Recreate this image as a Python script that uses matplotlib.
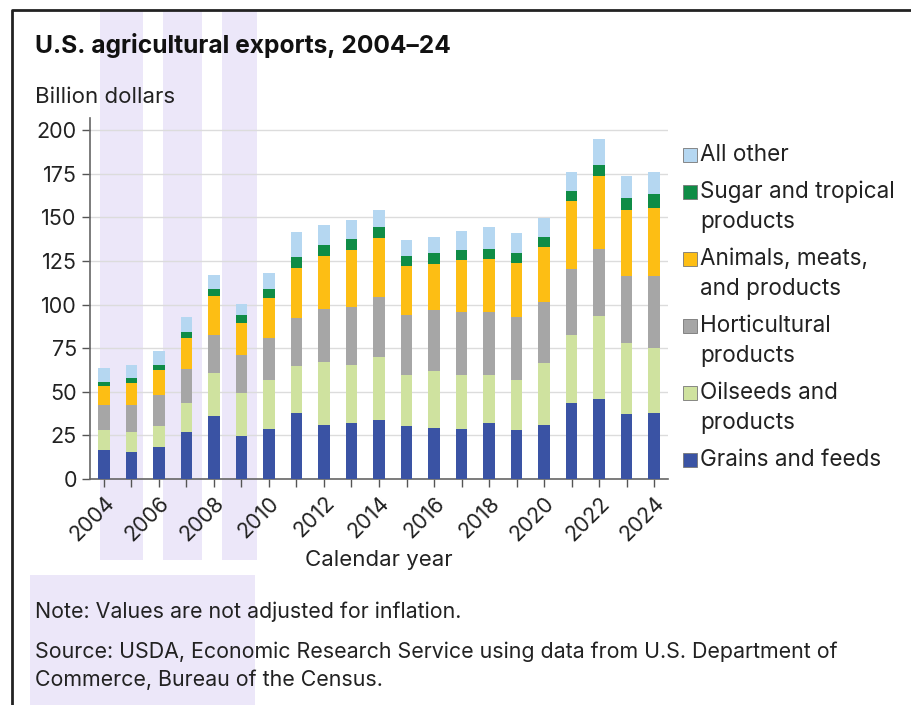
import matplotlib
matplotlib.use("Agg")
import matplotlib.pyplot as plt
from matplotlib.patches import Rectangle
from matplotlib.lines import Line2D
import numpy as np

plt.rcParams['font.family'] = ['Inter', 'DejaVu Sans']

years = list(range(2004, 2025))
grains = [16.8, 15.6, 18.3, 26.9, 35.9, 24.6, 28.4, 37.6, 31.1, 31.9, 34.0,
          30.2, 29.4, 28.6, 31.9, 27.9, 30.9, 43.3, 46.0, 37.4, 38.0]
oilseeds = [11.4, 11.1, 12.2, 16.6, 24.8, 24.6, 28.1, 27.3, 36.1, 33.4, 35.8,
            29.3, 32.8, 31.3, 27.8, 28.8, 35.9, 39.5, 47.3, 40.5, 37.0]
horticultural = [14.4, 15.9, 17.8, 19.5, 22.1, 22.0, 24.4, 27.5, 30.5, 33.6, 34.4,
                 34.8, 34.6, 35.7, 35.9, 36.0, 34.5, 37.8, 38.4, 38.5, 41.6]
animals = [10.8, 12.7, 14.1, 17.7, 22.0, 18.5, 23.1, 28.8, 30.2, 32.4, 34.0,
           27.6, 26.7, 29.8, 30.4, 31.0, 31.9, 38.6, 41.8, 38.0, 38.9]
sugar = [2.5, 2.7, 2.9, 3.7, 4.0, 4.2, 4.8, 5.9, 6.5, 6.3, 6.1,
         6.0, 5.9, 5.9, 6.1, 5.9, 5.3, 5.9, 6.7, 6.7, 7.9]
other = [7.8, 7.6, 8.0, 8.5, 8.4, 6.7, 9.3, 14.7, 11.0, 10.9, 9.7,
         8.9, 9.1, 11.1, 12.2, 11.2, 11.1, 11.2, 15.0, 12.8, 12.4]

series = [grains, oilseeds, horticultural, animals, sugar, other]
labels = ["Grains and feeds", "Oilseeds and\nproducts", "Horticultural\nproducts",
          "Animals, meats,\nand products", "Sugar and tropical\nproducts", "All other"]
colors = ["#3a53a4", "#cfe29f", "#a6a6a6", "#fdbe14", "#0f8c46", "#b5d7f1"]

yticks = [0, 25, 50, 75, 100, 125, 150, 175, 200]

W, H = 912, 705
fig = plt.figure(figsize=(W / 100, H / 100), dpi=100)
fig.patch.set_facecolor("white")

def fx(px):
    return px / W

def fy(py):
    return 1 - py / H

# faint watermark-like background stripes
lav = "#ece7f9"
for (x0, x1, y0, y1) in [(100, 143, 10, 560), (163, 202, 10, 560), (222, 257, 10, 560),
                         (30, 255, 575, 705)]:
    fig.add_artist(Rectangle((fx(x0), fy(y1)), fx(x1) - fx(x0), fy(y0) - fy(y1),
                             transform=fig.transFigure, facecolor=lav, edgecolor="none",
                             zorder=-10))

# frame
fig.add_artist(Line2D([fx(12), fx(12), fx(912)], [fy(705), fy(10), fy(10)],
                      transform=fig.transFigure, color="#222222", lw=2))

ax = fig.add_axes([fx(90), fy(479), fx(668) - fx(90), fy(118) - fy(479)])
ax.set_facecolor("none")

bottom = np.zeros(len(years))
for vals, col, lab in zip(series, colors, labels):
    ax.bar(years, vals, bottom=bottom, width=0.42, color=col, label=lab, zorder=3)
    bottom += np.array(vals)

ax.set_xlim(2003.5, 2024.5)
ax.set_ylim(0, 207)
ax.set_yticks(yticks)
ax.set_yticklabels([str(v) for v in yticks])
ax.set_xticks(years)
ax.set_xticklabels([str(y) if (y - 2004) % 2 == 0 else "" for y in years],
                   rotation=45, ha="right", va="top", rotation_mode="anchor")
ax.tick_params(axis="both", labelsize=15.5, colors="#555555", labelcolor="#222222",
               length=6, width=1, direction="out")
ax.tick_params(axis="x", pad=4)
ax.yaxis.grid(True, color="#dcdcdc", lw=1, zorder=0)
ax.set_axisbelow(True)
for s in ["top", "right"]:
    ax.spines[s].set_visible(False)
for s in ["left", "bottom"]:
    ax.spines[s].set_color("#666666")
    ax.spines[s].set_linewidth(1.2)

# texts
fig.text(fx(35), fy(45), "U.S. agricultural exports, 2004\u201324", fontsize=17.7,
         fontweight="bold", ha="left", va="center", color="#111111")
fig.text(fx(35), fy(97), "Billion dollars", fontsize=16, ha="left", va="center",
         color="#222222")
fig.text(fx(379), fy(560), "Calendar year", fontsize=16, ha="center", va="center",
         color="#222222")
fig.text(fx(35), fy(612), "Note: Values are not adjusted for inflation.", fontsize=15.4,
         ha="left", va="center", color="#222222")
fig.text(fx(35), fy(652), "Source: USDA, Economic Research Service using data from U.S. Department of",
         fontsize=15.4, ha="left", va="center", color="#222222")
fig.text(fx(35), fy(680), "Commerce, Bureau of the Census.", fontsize=15.4,
         ha="left", va="center", color="#222222")

# legend (manual)
leg_y = [460, 393, 326, 259, 192, 155]
for lab, col, y0 in zip(labels, colors, leg_y):
    fig.add_artist(Rectangle((fx(683), fy(y0 + 7)), fx(14), 14 / H,
                             transform=fig.transFigure, facecolor=col,
                             edgecolor="#777777", lw=0.6))
    for i, line in enumerate(lab.split("\n")):
        fig.text(fx(700), fy(y0 + 30 * i), line, fontsize=16.2, ha="left",
                 va="center", color="#222222")

fig.savefig("out.png", dpi=100, facecolor="white")
